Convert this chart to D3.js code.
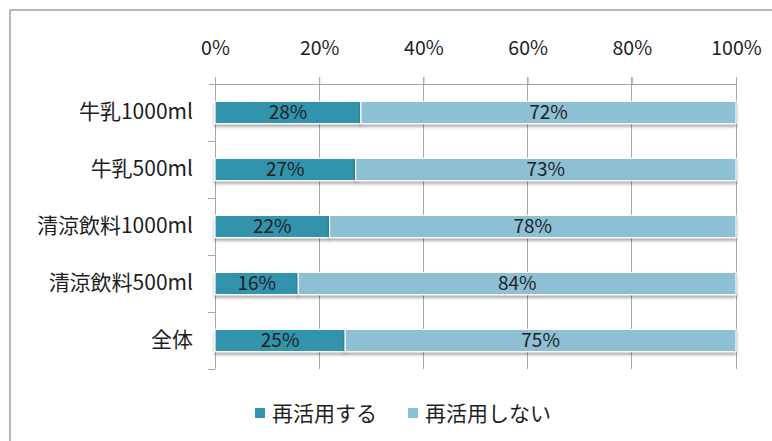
<!DOCTYPE html>
<html>
<head>
<meta charset="utf-8">
<script src="https://cdn.jsdelivr.net/npm/d3@7"></script>
<style>
  html, body { margin: 0; padding: 0; background: #fff; }
  svg { display: block; }
  text { font-family: "Noto Sans CJK JP", "Noto Sans", sans-serif; fill: #1e1e1e; }
</style>
</head>
<body>
<svg id="chart" width="772" height="441"></svg>
<script>
// Share of containers re-used vs. not re-used, by product type
const categories = ["牛乳1000ml", "牛乳500ml", "清涼飲料1000ml", "清涼飲料500ml", "全体"];
const reuse      = [28, 27, 22, 16, 25];
const noReuse    = [72, 73, 78, 84, 75];
const seriesNames = ["再活用する", "再活用しない"];
const tickValues = [0, 20, 40, 60, 80, 100];

const colors = ["#3193ad", "#8dc0d4"];

const svg = d3.select("#chart");
const W = 772, H = 441;

// outer frame
svg.append("path")
  .attr("d", `M10,${H + 5} V10 H${W + 5}`)
  .attr("fill", "none")
  .attr("stroke", "#b8b8b8")
  .attr("stroke-width", 2);

const x = d3.scaleLinear().domain([0, 100]).range([215, 736]);
const y = d3.scaleBand().domain(categories).range([84, 369]).padding(0);
const barH = y.bandwidth() * 0.39;

// drop shadow under the bars
const defs = svg.append("defs");
const f = defs.append("filter").attr("id", "shadow")
  .attr("x", "-5%").attr("y", "-20%").attr("width", "110%").attr("height", "160%");
f.append("feDropShadow").attr("dx", 0).attr("dy", 2.5).attr("stdDeviation", 1.5)
  .attr("flood-color", "#000").attr("flood-opacity", 0.35);

// vertical gridlines (with small ticks above the axis line)
const grid = svg.append("g").attr("class", "grid");
grid.selectAll("line").data(tickValues).join("line")
  .attr("x1", d => x(d)).attr("x2", d => x(d))
  .attr("y1", 77).attr("y2", 369)
  .attr("stroke", "#a6a6a6").attr("stroke-width", 1)
  .attr("shape-rendering", "crispEdges");

// top axis
const xAxis = d3.axisTop(x).tickValues(tickValues).tickFormat(d => d + "%").tickSize(7).tickPadding(22);
const gx = svg.append("g").attr("transform", "translate(0,84)").call(xAxis);
gx.select(".domain").attr("stroke", "#a6a6a6").attr("d", `M${x(0) - 6},0.5H${x(100)}`);
gx.selectAll(".tick line").attr("stroke", "#a6a6a6");
gx.selectAll(".tick text").attr("font-size", 19.5).attr("fill", "#1e1e1e")
  .style("font-family", '"Noto Sans CJK JP", sans-serif');

// left axis
const yAxis = d3.axisLeft(y).tickSize(0).tickPadding(22);
const gy = svg.append("g").attr("transform", `translate(${x(0)},0)`).call(yAxis);
gy.select(".domain").attr("stroke", "#a6a6a6").attr("d", "M0.5,84V369");
gy.selectAll(".tick text").attr("font-size", 21).attr("fill", "#1e1e1e")
  .style("font-family", '"Noto Sans CJK JP", sans-serif');
// category separators on the left axis
svg.append("g").selectAll("line")
  .data(d3.range(1, categories.length + 1))
  .join("line")
  .attr("x1", x(0) - 7).attr("x2", x(0))
  .attr("y1", i => Math.round(84 + i * y.step()) + 0.5)
  .attr("y2", i => Math.round(84 + i * y.step()) + 0.5)
  .attr("stroke", "#a6a6a6");

// stacked bars
const rows = categories.map((c, i) => ({ c, vals: [reuse[i], noReuse[i]] }));
const bars = svg.append("g");
rows.forEach(r => {
  let acc = 0;
  const by = y(r.c) + (y.bandwidth() - barH) / 2;
  r.vals.forEach((v, k) => {
    const x0 = acc;
    acc += v;
    bars.append("rect")
      .attr("x", x(x0)).attr("y", by)
      .attr("width", x(acc) - x(x0)).attr("height", barH)
      .attr("fill", colors[k])
      .attr("stroke", "#fff").attr("stroke-width", 1.2)
      .attr("filter", "url(#shadow)");
    bars.append("text")
      .attr("x", (x(x0) + x(acc)) / 2)
      .attr("y", by + barH / 2)
      .attr("dy", "0.36em")
      .attr("text-anchor", "middle")
      .attr("font-size", 19)
      .text(v + "%");
  });
});

// legend
const legend = svg.append("g").attr("transform", "translate(255,408)");
const lx = [0, 153];
seriesNames.forEach((name, k) => {
  legend.append("rect").attr("x", lx[k]).attr("y", 0).attr("width", 10).attr("height", 10)
    .attr("fill", colors[k]);
  legend.append("text").attr("x", lx[k] + 17).attr("y", 5).attr("dy", "0.36em")
    .attr("font-size", 21).text(name);
});
</script>
</body>
</html>
